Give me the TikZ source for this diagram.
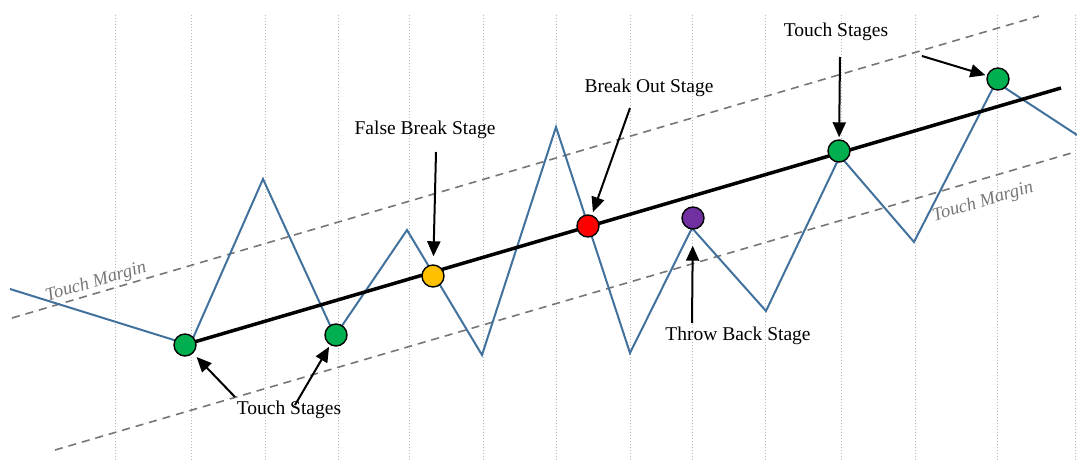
\documentclass[tikz,border=0pt]{standalone}
\usepackage{fontspec}
\setmainfont{Liberation Serif}
\usetikzlibrary{arrows.meta}
\definecolor{zig}{RGB}{65,113,156}
\definecolor{tgreen}{RGB}{0,176,80}
\definecolor{tyellow}{RGB}{255,192,0}
\definecolor{tred}{RGB}{255,0,0}
\definecolor{tpurple}{RGB}{112,48,160}
\definecolor{dashgray}{RGB}{118,118,118}
\definecolor{gridgray}{RGB}{185,185,185}
\tikzset{
  gridline/.style={draw=gridgray, line width=0.8pt, dash pattern=on 1pt off 2pt},
  zigline/.style={draw=zig, line width=2pt, line join=miter},
  trendline/.style={draw=black, line width=3.5pt},
  marginline/.style={draw=dashgray, line width=1.6pt, dash pattern=on 8pt off 6pt},
  dot/.style={circle, draw=black, line width=1.4pt, minimum size=22pt, inner sep=0pt},
  lbl/.style={font=\fontsize{19.5}{22}\selectfont, inner sep=0pt, text=black},
  marginlbl/.style={font=\fontsize{18.5}{21}\selectfont\itshape, text=dashgray, inner sep=0pt, rotate=16.5},
  pointer/.style={draw=black, line width=2pt, -{Triangle[length=15pt,width=13pt]}}
}
\begin{document}
\begin{tikzpicture}[x=1pt,y=-1pt]
\useasboundingbox (0,0) rectangle (1077,460);
% grid
\foreach \gx in {115,191,265,338,409,483,556,630,692,765,841,915,997,1075}
  \draw[gridline] (\gx,15) -- (\gx,460);
% margins
\draw[marginline] (12,318) -- (1039,16);
\draw[marginline] (55,450) -- (1075,152);
\node[marginlbl] (ml1) at (96,282) {Touch Margin};
\node[marginlbl] (ml2) at (983,202) {Touch Margin};
% zigzag
\draw[zigline] (10,289) -- (190,345) -- (263,179) -- (335,336) -- (407,230) -- (482,355)
  -- (556,127) -- (630,353) -- (692,228) -- (766,311) -- (840,156) -- (914,242)
  -- (996,82) -- (1077,135);
% trend
\draw[trendline] (184,345) -- (1061,88);
% dots
\node[dot, fill=tgreen] (g1) at (185,345) {};
\node[dot, fill=tgreen] (g2) at (336,335) {};
\node[dot, fill=tyellow] (y1) at (433,276) {};
\node[dot, fill=tred] (r1) at (588,226) {};
\node[dot, fill=tpurple] (p1) at (693,218) {};
\node[dot, fill=tgreen] (g3) at (839,151) {};
\node[dot, fill=tgreen] (g4) at (998,79) {};
% labels
\node[lbl] (fb) at (425,130) {False Break Stage};
\node[lbl] (bo) at (649,88) {Break Out Stage};
\node[lbl] (tb) at (738,336) {Throw Back Stage};
\node[lbl] (ts1) at (836,32) {Touch Stages};
\node[lbl] (ts2) at (289,410) {Touch Stages};
% arrow starts
\coordinate (afb) at (436,152);
\coordinate (abo) at (630,108);
\coordinate (atb) at (692,323);
\coordinate (ats1) at (840,57);
\coordinate (ats1b) at (922,56);
\coordinate (ats2) at (235,397);
\coordinate (ats2b) at (295,405);
% arrows
\draw[pointer, shorten >=8pt] (afb) -- (y1);
\draw[pointer, shorten >=3pt] (abo) -- (r1);
\draw[pointer, shorten >=16pt] (atb) -- (p1);
\draw[pointer, shorten >=2pt] (ats1) -- (g3);
\draw[pointer, shorten >=1.5pt] (ats1b) -- (g4);
\draw[pointer, shorten >=5pt] (ats2) -- (g1);
\draw[pointer, shorten >=2pt] (ats2b) -- (g2);
\end{tikzpicture}
\end{document}
